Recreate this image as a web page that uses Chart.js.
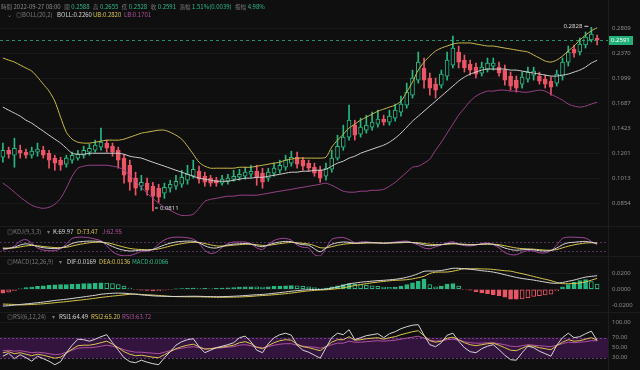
<!DOCTYPE html>
<html><head><meta charset="utf-8">
<script src="https://cdn.jsdelivr.net/npm/chart.js@4.4.1/dist/chart.umd.min.js"></script>
<style>
html,body{margin:0;padding:0;background:#0f0f10;}
body{width:640px;height:370px;position:relative;overflow:hidden;font-family:"Noto Sans CJK TC","Noto Sans",sans-serif;}
canvas{position:absolute;left:0;}
.t{position:absolute;font-size:6px;line-height:8px;white-space:nowrap;color:#7a7a7a;}
.hdr span{margin-right:2px;}
.hdr .c{font-size:5.5px;margin-right:1.5px;}
.hdr .s{margin-right:3.5px;}
.g{color:#2ebd85}.w{color:#d6d6d6}.y{color:#d9c54c}.p{color:#b0509f}
.sep{position:absolute;left:0;width:640px;height:1px;background:#1c1c1e;}
.vsep{position:absolute;left:608px;top:0;width:1px;height:370px;background:#1e1e20;}
</style></head><body>
<canvas id="cMain" width="640" height="226" style="top:0"></canvas>
<canvas id="cKdj" width="640" height="30" style="top:226px"></canvas>
<canvas id="cMacd" width="640" height="56" style="top:256px"></canvas>
<canvas id="cRsi" width="640" height="58" style="top:312px"></canvas>
<div class="sep" style="top:226px"></div>
<div class="sep" style="top:256px"></div>
<div class="sep" style="top:312px"></div>
<div class="vsep"></div>

<div class="t hdr" style="left:1px;top:3px"><span class="c">時間</span><span class="s" style="color:#8a8a8a">2022-09-27 08:00</span><span class="c">開</span><span class="g s">0.2588</span><span class="c">高</span><span class="g s">0.2655</span><span class="c">低</span><span class="g s">0.2528</span><span class="c">收</span><span class="g s">0.2591</span><span class="c">漲幅</span><span class="g s">1.51%(0.0039)</span><span class="c">振幅</span><span class="g">4.98%</span></div>

<div class="t" style="left:7px;top:11px">⌄</div>
<div class="t" style="left:16px;top:11px">◎BOLL(20,2)</div>
<div class="t w" style="left:57px;top:11px">BOLL:0.2260</div>
<div class="t y" style="left:93px;top:11px">UB:0.2820</div>
<div class="t p" style="left:124px;top:11px">LB:0.1701</div>

<div class="t" style="left:7px;top:228px">◎KDJ(9,3,3)</div>
<div class="t" style="left:47px;top:228px">▾</div>
<div class="t w" style="left:53px;top:228px">K:69.97</div>
<div class="t y" style="left:77px;top:228px">D:73.47</div>
<div class="t p" style="left:102px;top:228px">J:62.95</div>

<div class="t" style="left:7px;top:258px">◎MACD(12,26,9)</div>
<div class="t" style="left:59px;top:258px">▾</div>
<div class="t w" style="left:67px;top:258px">DIF:0.0169</div>
<div class="t y" style="left:99px;top:258px">DEA:0.0136</div>
<div class="t g" style="left:132px;top:258px">MACD:0.0066</div>

<div class="t" style="left:7px;top:313px">◎RSI(6,12,24)</div>
<div class="t" style="left:52px;top:313px">▾</div>
<div class="t w" style="left:59px;top:313px">RSI1:64.49</div>
<div class="t y" style="left:91px;top:313px">RSI2:65.20</div>
<div class="t p" style="left:122px;top:313px">RSI3:63.72</div>

<script>
const dates = Array.from({length:104},(_,i)=>new Date(Date.UTC(2022,8,27)-(103-i)*86400000).toISOString().slice(0,10));

const open = [0.1169,0.1226,0.1185,0.1226,0.1210,0.1185,0.1210,0.1226,0.1201,0.1162,
0.1146,0.1115,0.1146,0.1162,0.1185,0.1210,0.1226,0.1252,0.1287,0.1260,
0.1226,0.1162,0.1107,0.1014,0.0960,0.0980,0.0960,0.0947,0.0915,0.0947,
0.0960,0.0973,0.1000,0.1027,0.1063,0.1027,0.1014,0.1000,0.0980,0.0993,
0.1007,0.1020,0.1027,0.1041,0.1063,0.1049,0.1014,0.1049,0.1070,0.1092,
0.1123,0.1169,0.1146,0.1123,0.1092,0.1070,0.1027,0.1077,0.1162,0.1252,
0.1340,0.1454,0.1367,0.1405,0.1434,0.1464,0.1514,0.1484,0.1525,0.1588,
0.1666,0.1783,0.1975,0.2144,0.2003,0.1922,0.1909,0.2030,0.2188,0.2391,
0.2263,0.2203,0.2158,0.2072,0.2129,0.2173,0.2158,0.2114,0.2030,0.1975,
0.1922,0.1989,0.2044,0.2030,0.1989,0.1962,0.1935,0.2030,0.2233,0.2440,
0.2391,0.2507,0.2594,0.2630];
const high = [0.1287,0.1252,0.1331,0.1269,0.1235,0.1252,0.1287,0.1260,0.1226,0.1185,
0.1169,0.1185,0.1210,0.1226,0.1260,0.1278,0.1313,0.1425,0.1313,0.1287,
0.1252,0.1193,0.1146,0.1056,0.1034,0.1014,0.0986,0.0973,0.0980,0.1000,
0.1034,0.1070,0.1107,0.1146,0.1100,0.1056,0.1034,0.1020,0.1034,0.1041,
0.1070,0.1077,0.1092,0.1107,0.1107,0.1085,0.1085,0.1123,0.1146,0.1185,
0.1218,0.1210,0.1169,0.1146,0.1123,0.1100,0.1123,0.1226,0.1358,0.1454,
0.1666,0.1504,0.1525,0.1556,0.1588,0.1610,0.1556,0.1610,0.1678,0.1771,
0.1935,0.2114,0.2391,0.2295,0.2072,0.2003,0.2114,0.2391,0.2665,0.2490,
0.2342,0.2263,0.2218,0.2233,0.2295,0.2295,0.2233,0.2188,0.2086,0.2030,
0.2086,0.2158,0.2158,0.2086,0.2044,0.2016,0.2114,0.2295,0.2490,0.2507,
0.2630,0.2739,0.2828,0.2683];
const low = [0.1130,0.1162,0.1092,0.1162,0.1162,0.1162,0.1177,0.1162,0.1085,0.1070,
0.1070,0.1092,0.1123,0.1146,0.1162,0.1185,0.1210,0.1226,0.1210,0.1177,
0.1085,0.0980,0.0934,0.0903,0.0934,0.0903,0.0811,0.0860,0.0884,0.0922,
0.0940,0.0953,0.0973,0.1014,0.0980,0.0960,0.0960,0.0960,0.0966,0.0973,
0.0993,0.1000,0.1007,0.1020,0.0966,0.0947,0.0993,0.1027,0.1049,0.1070,
0.1100,0.1085,0.1070,0.1063,0.1027,0.0986,0.1000,0.1056,0.1146,0.1226,
0.1313,0.1313,0.1340,0.1377,0.1405,0.1434,0.1454,0.1454,0.1494,0.1546,
0.1632,0.1748,0.1935,0.1871,0.1783,0.1748,0.1871,0.1975,0.2144,0.2144,
0.2086,0.2044,0.2003,0.2030,0.2086,0.2114,0.2030,0.1909,0.1845,0.1820,
0.1871,0.1949,0.1975,0.1922,0.1871,0.1783,0.1896,0.1975,0.2173,0.2310,
0.2342,0.2456,0.2559,0.2507];
const close = [0.1226,0.1193,0.1243,0.1201,0.1185,0.1218,0.1235,0.1185,0.1146,0.1123,
0.1107,0.1162,0.1185,0.1193,0.1226,0.1243,0.1269,0.1295,0.1243,0.1210,
0.1146,0.1034,0.0986,0.0947,0.0986,0.0934,0.0897,0.0891,0.0953,0.0973,
0.0993,0.1020,0.1041,0.1077,0.1007,0.0986,0.0980,0.0980,0.1007,0.1014,
0.1027,0.1041,0.1056,0.1063,0.1020,0.0986,0.1056,0.1085,0.1107,0.1146,
0.1169,0.1115,0.1100,0.1085,0.1049,0.1014,0.1085,0.1162,0.1260,0.1340,
0.1504,0.1358,0.1434,0.1454,0.1484,0.1514,0.1484,0.1546,0.1610,0.1678,
0.1820,0.2003,0.2233,0.1975,0.1871,0.1845,0.2058,0.2263,0.2456,0.2233,
0.2144,0.2114,0.2058,0.2158,0.2218,0.2218,0.2072,0.1975,0.1896,0.1871,
0.2016,0.2086,0.2100,0.1962,0.1922,0.1883,0.2058,0.2233,0.2391,0.2374,
0.2524,0.2647,0.2702,0.2591];

const bollUp = [0.2295,0.2263,0.2233,0.2188,0.2144,0.2100,0.2016,0.1922,0.1833,0.1712,
0.1535,0.1386,0.1322,0.1295,0.1287,0.1287,0.1295,0.1304,0.1313,0.1313,
0.1313,0.1322,0.1340,0.1358,0.1377,0.1386,0.1396,0.1405,0.1405,0.1386,
0.1358,0.1322,0.1260,0.1193,0.1130,0.1100,0.1085,0.1085,0.1085,0.1085,
0.1085,0.1092,0.1092,0.1092,0.1100,0.1107,0.1115,0.1123,0.1130,0.1146,
0.1154,0.1162,0.1162,0.1162,0.1162,0.1162,0.1169,0.1252,0.1313,0.1367,
0.1425,0.1464,0.1504,0.1535,0.1567,0.1599,0.1621,0.1644,0.1666,0.1712,
0.1820,0.1949,0.2114,0.2233,0.2326,0.2407,0.2456,0.2490,0.2524,0.2542,
0.2542,0.2542,0.2524,0.2507,0.2490,0.2490,0.2473,0.2456,0.2440,0.2423,
0.2407,0.2391,0.2342,0.2295,0.2248,0.2233,0.2263,0.2326,0.2407,0.2490,
0.2594,0.2683,0.2760,0.2820];
const bollMid = [0.1644,0.1610,0.1578,0.1546,0.1504,0.1474,0.1434,0.1396,0.1358,0.1322,
0.1287,0.1243,0.1201,0.1193,0.1193,0.1201,0.1201,0.1201,0.1201,0.1201,
0.1201,0.1193,0.1177,0.1169,0.1162,0.1146,0.1130,0.1115,0.1100,0.1085,
0.1070,0.1056,0.1041,0.1027,0.1014,0.1007,0.1000,0.0993,0.0993,0.0993,
0.1000,0.1007,0.1014,0.1014,0.1020,0.1020,0.1027,0.1034,0.1041,0.1049,
0.1056,0.1056,0.1063,0.1063,0.1070,0.1070,0.1077,0.1100,0.1123,0.1138,
0.1162,0.1177,0.1201,0.1218,0.1235,0.1252,0.1269,0.1295,0.1331,0.1377,
0.1434,0.1494,0.1546,0.1599,0.1655,0.1712,0.1771,0.1833,0.1896,0.1962,
0.2016,0.2058,0.2086,0.2114,0.2129,0.2129,0.2129,0.2129,0.2114,0.2114,
0.2100,0.2086,0.2072,0.2058,0.2044,0.2030,0.2030,0.2044,0.2058,0.2086,
0.2114,0.2158,0.2218,0.2260];
const bollLow = [0.0980,0.0953,0.0922,0.0891,0.0866,0.0843,0.0832,0.0826,0.0832,0.0849,
0.0884,0.0947,0.1027,0.1085,0.1100,0.1107,0.1107,0.1107,0.1107,0.1100,
0.1092,0.1070,0.1034,0.0993,0.0953,0.0915,0.0884,0.0855,0.0832,0.0815,
0.0798,0.0787,0.0787,0.0793,0.0826,0.0866,0.0878,0.0884,0.0891,0.0897,
0.0897,0.0903,0.0903,0.0903,0.0903,0.0909,0.0915,0.0922,0.0928,0.0934,
0.0940,0.0947,0.0953,0.0960,0.0966,0.0973,0.0980,0.0966,0.0947,0.0928,
0.0922,0.0922,0.0928,0.0928,0.0934,0.0934,0.0940,0.0960,0.0986,0.1020,
0.1056,0.1092,0.1100,0.1123,0.1154,0.1226,0.1295,0.1377,0.1464,0.1556,
0.1632,0.1712,0.1771,0.1808,0.1833,0.1833,0.1845,0.1845,0.1833,0.1833,
0.1820,0.1820,0.1833,0.1845,0.1833,0.1795,0.1759,0.1724,0.1678,0.1655,
0.1644,0.1655,0.1678,0.1701];

const kdjK = [35,38,45,60,68,62,50,42,38,36,40,52,70,80,84,86,85,82,68,50,
35,25,20,22,26,25,30,45,60,72,80,84,86,85,75,55,42,40,50,60,
66,68,70,66,55,48,60,72,80,84,82,70,62,58,35,15,40,65,75,80,
78,72,74,76,75,74,72,74,76,78,80,76,70,60,55,58,62,68,72,66,
62,60,62,66,68,64,55,40,30,25,28,30,28,22,20,24,40,62,75,78,
82,84,78,69.97];
const kdjD = [40,39,41,47,54,57,55,50,46,43,42,45,53,62,69,75,78,79,75,67,
56,46,37,32,30,28,29,34,43,53,62,69,75,78,77,70,61,54,53,55,
59,62,65,65,62,57,58,63,69,74,77,75,71,67,56,42,41,49,58,65,
69,70,71,73,74,74,73,73,74,75,77,77,75,70,65,63,63,65,67,67,
65,63,63,64,65,65,62,55,47,40,36,34,32,29,26,25,30,41,52,61,
68,73,75,73.47];
const kdjJ = [25,36,53,86,96,72,40,26,22,22,36,66,104,112,112,108,99,88,54,16,
-5,-12,-10,2,18,19,32,67,94,108,112,112,108,99,71,25,4,12,44,70,
80,80,80,68,41,30,64,90,102,104,92,60,44,40,-5,-14,38,97,108,110,
96,76,80,82,77,74,70,76,80,84,86,74,60,40,35,48,60,74,82,64,
56,54,60,70,74,62,41,10,-4,-5,12,22,20,8,8,22,60,104,112,112,
110,106,84,62.95];

const macdDif = [-0.0210,-0.0205,-0.0198,-0.0190,-0.0183,-0.0176,-0.0168,-0.0160,-0.0150,-0.0140,
-0.0132,-0.0124,-0.0115,-0.0105,-0.0095,-0.0085,-0.0075,-0.0062,-0.0055,-0.0050,
-0.0048,-0.0050,-0.0055,-0.0062,-0.0070,-0.0076,-0.0082,-0.0086,-0.0088,-0.0090,
-0.0090,-0.0089,-0.0088,-0.0087,-0.0088,-0.0090,-0.0092,-0.0093,-0.0092,-0.0090,
-0.0087,-0.0083,-0.0078,-0.0073,-0.0068,-0.0064,-0.0058,-0.0050,-0.0042,-0.0033,
-0.0024,-0.0017,-0.0010,-0.0005,-0.0003,-0.0003,0.0002,0.0015,0.0030,0.0048,
0.0068,0.0078,0.0088,0.0095,0.0102,0.0108,0.0112,0.0118,0.0125,0.0135,
0.0150,0.0170,0.0195,0.0225,0.0228,0.0228,0.0235,0.0248,0.0262,0.0262,
0.0256,0.0250,0.0242,0.0232,0.0225,0.0215,0.0200,0.0182,0.0165,0.0148,
0.0135,0.0125,0.0115,0.0102,0.0090,0.0078,0.0075,0.0085,0.0100,0.0115,
0.0135,0.0152,0.0162,0.0169];
const macdDea = [-0.0185,-0.0187,-0.0190,-0.0195,-0.0193,-0.0190,-0.0186,-0.0181,-0.0175,-0.0168,
-0.0161,-0.0154,-0.0146,-0.0138,-0.0130,-0.0121,-0.0112,-0.0102,-0.0093,-0.0085,
-0.0078,-0.0070,-0.0063,-0.0060,-0.0065,-0.0069,-0.0072,-0.0077,-0.0083,-0.0088,
-0.0092,-0.0093,-0.0094,-0.0094,-0.0094,-0.0096,-0.0097,-0.0099,-0.0100,-0.0099,
-0.0098,-0.0096,-0.0093,-0.0089,-0.0083,-0.0078,-0.0074,-0.0068,-0.0062,-0.0055,
-0.0047,-0.0038,-0.0028,-0.0020,-0.0014,-0.0009,-0.0006,0.0000,0.0008,0.0018,
0.0033,0.0047,0.0059,0.0070,0.0081,0.0090,0.0098,0.0106,0.0112,0.0115,
0.0120,0.0130,0.0145,0.0162,0.0198,0.0213,0.0215,0.0216,0.0226,0.0242,
0.0258,0.0255,0.0257,0.0255,0.0253,0.0248,0.0240,0.0232,0.0227,0.0210,
0.0195,0.0178,0.0160,0.0142,0.0125,0.0108,0.0085,0.0070,0.0070,0.0072,
0.0080,0.0092,0.0114,0.0136];
const macdHist = [-0.0050,-0.0036,-0.0016,0.0010,0.0020,0.0028,0.0036,0.0042,0.0050,0.0056,
0.0058,0.0060,0.0062,0.0066,0.0070,0.0072,0.0074,0.0080,0.0076,0.0070,
0.0060,0.0040,0.0016,-0.0004,-0.0010,-0.0014,-0.0020,-0.0018,-0.0010,-0.0004,
0.0004,0.0008,0.0012,0.0014,0.0012,0.0012,0.0010,0.0012,0.0016,0.0018,
0.0022,0.0026,0.0030,0.0032,0.0030,0.0028,0.0032,0.0036,0.0040,0.0044,
0.0046,0.0042,0.0036,0.0030,0.0022,0.0012,0.0016,0.0030,0.0044,0.0060,
0.0070,0.0062,0.0058,0.0050,0.0042,0.0036,0.0028,0.0024,0.0026,0.0040,
0.0060,0.0080,0.0100,0.0126,0.0060,0.0030,0.0040,0.0064,0.0072,0.0040,
-0.0004,-0.0010,-0.0030,-0.0046,-0.0056,-0.0066,-0.0080,-0.0100,-0.0124,-0.0124,
-0.0120,-0.0106,-0.0090,-0.0080,-0.0070,-0.0060,-0.0020,0.0030,0.0060,0.0086,
0.0110,0.0120,0.0096,0.0066];

const rsi1 = [33,39,28,36,30,23,33,28,23,16,22,40,55,67,66,63,67,72,76,60,
45,30,22,20,25,21,18,16,30,42,55,62,66,68,52,40,45,50,53,56,
60,70,73,62,45,40,58,70,76,79,75,55,45,41,35,29,50,70,79,76,
86,66,70,74,76,78,70,78,82,88,92,95,96,75,56,52,60,75,79,63,
50,42,40,48,53,56,46,35,26,25,40,53,50,43,38,33,55,70,79,70,
72,78,83,64.49];
const rsi2 = [40,42,38,40,37,34,37,35,32,29,31,39,47,54,55,55,57,60,63,57,
50,42,37,34,35,33,31,30,36,42,48,52,55,57,52,47,48,50,51,53,
55,60,62,58,51,48,54,60,64,66,65,57,52,50,47,44,52,61,66,66,
72,65,66,68,69,70,67,70,72,76,79,82,84,74,64,61,63,69,71,66,
60,56,54,56,58,59,55,50,45,44,49,54,53,50,48,46,54,61,66,63,
64,67,70,65.20];
const rsi3 = [44,45,43,44,42,40,41,40,38,36,37,41,45,49,50,50,51,53,55,53,
50,46,43,41,41,40,39,38,41,44,47,49,51,52,50,48,48,49,50,51,
52,55,56,54,51,50,52,55,57,58,58,55,53,52,51,49,52,56,59,59,
63,61,61,62,63,64,63,64,65,67,69,71,73,69,65,63,64,66,67,65,
62,60,59,59,60,60,58,56,53,52,54,56,55,54,53,52,55,58,61,60,
61,62,64,63.72];

const priceTicks = [0.2809,0.2370,0.1999,0.1687,0.1423,0.1201,0.1013,0.0854];
const macdTicks = [0.02,0,-0.02];
const rsiTicks = [100,70,50,30];

const UP='#26b881', DOWN='#ec5566', BG='#0f0f10';
Chart.defaults.font.family = "'Noto Sans', sans-serif";
Chart.defaults.font.size = 6;
Chart.defaults.color = '#8c8c8c';

function xScale(){return {type:'category',offset:true,ticks:{display:false},grid:{display:false,drawTicks:false},border:{display:false},afterFit(s){s.height=0;}};}
function yScale(min,max,ticks,fmt,type){
  return {type:type||'linear',position:'right',min:min,max:max,border:{display:false},
    grid:{display:!!ticks,color:'rgba(255,255,255,0.045)',drawTicks:true,tickLength:12,tickColor:'rgba(0,0,0,0)'},
    ticks:{display:!!ticks,padding:0,color:'#8c8c8c',font:{size:6},callback:(v)=>fmt?fmt(v):v},
    afterBuildTicks(s){ if(ticks) s.ticks = ticks.map(v=>({value:v})); },
    afterFit(s){s.width=40;}};
}
function baseOpts(pt,pb,yopt){
  return {responsive:false,animation:false,devicePixelRatio:1,events:[],
    layout:{padding:{top:pt,bottom:pb,left:0,right:0}},
    plugins:{legend:{display:false},tooltip:{enabled:false}},
    scales:{x:xScale(),y:yopt}};
}
const candleCol = close.map((c,i)=>c>=open[i]?UP:DOWN);
const bodyFill = close.map((c,i)=>c>=open[i]?BG:DOWN);

const mainDeco = {id:'mainDeco', afterDatasetsDraw(chart){
  const {ctx,chartArea:a,scales:{x,y}} = chart;
  const last = close.length-1;
  const py = Math.round(y.getPixelForValue(close[last]))+0.5;
  ctx.save();
  ctx.strokeStyle='rgba(46,189,133,0.75)'; ctx.lineWidth=1; ctx.setLineDash([3,3]);
  ctx.beginPath(); ctx.moveTo(a.left,py); ctx.lineTo(608,py); ctx.stroke(); ctx.setLineDash([]);
  ctx.fillStyle='#22b07a'; ctx.fillRect(608,py-4.5,25,9);
  ctx.fillStyle='#ffffff'; ctx.font="6px 'Noto Sans'"; ctx.textBaseline='middle'; ctx.textAlign='left';
  ctx.fillText(close[last].toFixed(4),611,py);
  let hi=0, lo=0;
  high.forEach((v,i)=>{if(v>high[hi])hi=i;}); low.forEach((v,i)=>{if(v<low[lo])lo=i;});
  ctx.fillStyle='#d8d8d8'; ctx.strokeStyle='#d8d8d8';
  let hx=x.getPixelForValue(hi), hy=y.getPixelForValue(high[hi]);
  ctx.beginPath(); ctx.moveTo(hx-7,hy-1); ctx.lineTo(hx-3,hy-1); ctx.stroke();
  ctx.textAlign='right'; ctx.fillText(high[hi].toFixed(4),hx-9,hy-1);
  let lx=x.getPixelForValue(lo), ly=y.getPixelForValue(low[lo]);
  ctx.beginPath(); ctx.moveTo(lx+2,ly-3); ctx.lineTo(lx+5,ly-3); ctx.stroke();
  ctx.textAlign='left'; ctx.fillText(low[lo].toFixed(4),lx+7,ly-3);
  ctx.restore();
}};

new Chart(document.getElementById('cMain'),{
  type:'bar',
  data:{labels:dates,datasets:[
    {type:'line',data:bollUp,borderColor:'#cbbb4a',borderWidth:1,pointRadius:0,tension:0.25,order:1},
    {type:'line',data:bollMid,borderColor:'#cfcfcf',borderWidth:1,pointRadius:0,tension:0.25,order:1},
    {type:'line',data:bollLow,borderColor:'#9a4288',borderWidth:1,pointRadius:0,tension:0.25,order:1},
    {type:'bar',data:open.map((o,i)=>[o,close[i]]),backgroundColor:bodyFill,borderColor:candleCol,borderWidth:1,borderSkipped:false,barThickness:4,grouped:false,order:2},
    {type:'bar',data:low.map((l,i)=>[l,high[i]]),backgroundColor:candleCol,barThickness:1,grouped:false,order:3}
  ]},
  options:baseOpts(18,4,yScale(0.07526,0.30128,priceTicks,v=>Number(v).toFixed(4),'logarithmic')),
  plugins:[mainDeco]
});

function hLines(vals,color){return {id:'hl',beforeDatasetsDraw(chart){
  const {ctx,chartArea:a,scales:{y}}=chart; ctx.save(); ctx.strokeStyle=color; ctx.lineWidth=1; ctx.setLineDash([2,2]);
  vals.forEach(v=>{const p=Math.round(y.getPixelForValue(v))+0.5; ctx.beginPath(); ctx.moveTo(a.left,p); ctx.lineTo(608,p); ctx.stroke();});
  ctx.restore();}};}

new Chart(document.getElementById('cKdj'),{
  type:'line',
  data:{labels:dates,datasets:[
    {data:kdjK,borderColor:'#d6d6d6',borderWidth:1,pointRadius:0,tension:0.3},
    {data:kdjD,borderColor:'#d9c54c',borderWidth:1,pointRadius:0,tension:0.3},
    {data:kdjJ,borderColor:'#a4489c',borderWidth:1,pointRadius:0,tension:0.3}
  ]},
  options:baseOpts(2,0,yScale(-13.3,173.3,null,null)),
  plugins:[hLines([80,20],'rgba(140,80,150,0.55)')]
});

const histCol = macdHist.map((v)=>v>=0?UP:DOWN);
const histFill = macdHist.map((v,i)=>{const p=i?macdHist[i-1]:0; return Math.abs(v)>=Math.abs(p)?(v>=0?UP:DOWN):BG;});
new Chart(document.getElementById('cMacd'),{
  type:'bar',
  data:{labels:dates,datasets:[
    {type:'line',data:macdDif,borderColor:'#d6d6d6',borderWidth:1,pointRadius:0,tension:0.3,order:1},
    {type:'line',data:macdDea,borderColor:'#d9c54c',borderWidth:1,pointRadius:0,tension:0.3,order:1},
    {type:'bar',data:macdHist,backgroundColor:histFill,borderColor:histCol,borderWidth:1,borderSkipped:false,barThickness:4,order:2}
  ]},
  options:baseOpts(4,4,yScale(-0.0234,0.0366,macdTicks,v=>Number(v).toFixed(4))),
});

const rsiBand = {id:'band',beforeDatasetsDraw(chart){
  const {ctx,chartArea:a,scales:{y}}=chart; const t=y.getPixelForValue(70), b=y.getPixelForValue(30);
  ctx.save(); ctx.fillStyle='#33143f'; ctx.fillRect(a.left,t,608-a.left,b-t); ctx.restore();}};
new Chart(document.getElementById('cRsi'),{
  type:'line',
  data:{labels:dates,datasets:[
    {data:rsi1,borderColor:'#d6d6d6',borderWidth:1,pointRadius:0,tension:0},
    {data:rsi2,borderColor:'#d9c54c',borderWidth:1,pointRadius:0,tension:0},
    {data:rsi3,borderColor:'#b0509f',borderWidth:1,pointRadius:0,tension:0}
  ]},
  options:baseOpts(4,4,yScale(13.4,113.4,rsiTicks,v=>Number(v).toFixed(2))),
  plugins:[rsiBand,hLines([70,30],'rgba(150,80,170,0.7)')]
});
</script>
</body></html>
